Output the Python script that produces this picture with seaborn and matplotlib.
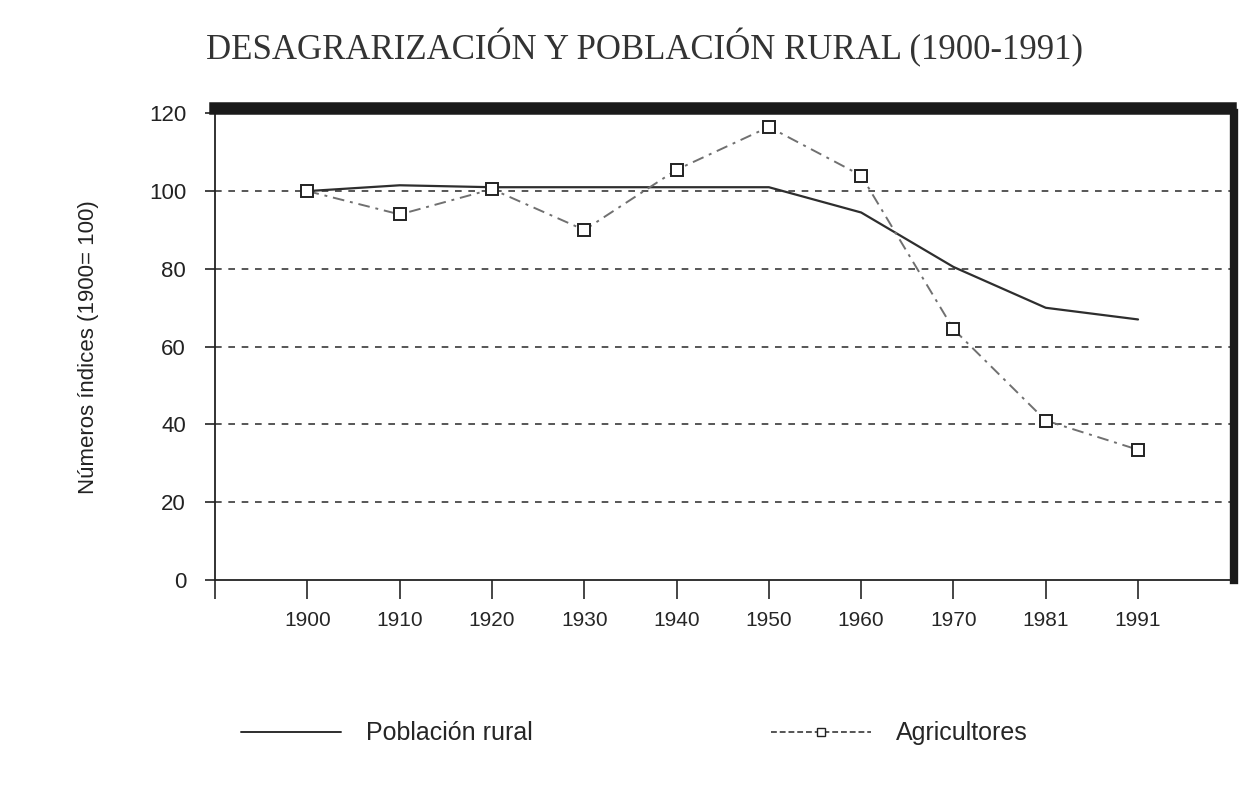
import numpy as np
import pandas as pd
import seaborn as sns
import matplotlib.pyplot as plt
from matplotlib.lines import Line2D

# datos
years = ["1900", "1910", "1920", "1930", "1940", "1950", "1960", "1970", "1981", "1991"]
poblacion_rural = [100, 101.5, 101, 101, 101, 101, 94.5, 80.5, 70, 67]
agricultores = [100, 94, 100.5, 90, 105.5, 116.5, 104, 64.5, 41, 33.5]

df = pd.DataFrame({"pos": np.arange(len(years)), "year": years,
                   "rural": poblacion_rural, "agri": agricultores})

sns.set_style("white")
plt.rcParams["font.family"] = ["Liberation Sans", "DejaVu Sans"]

fig = plt.figure(figsize=(12.44, 7.87), dpi=100)
ax = fig.add_axes([0.173, 0.263, 0.816, 0.593])

# lineas de referencia discontinuas
for y in [20, 40, 60, 80, 100]:
    ax.axhline(y, color="#3a3a3a", lw=1.2, ls=(0, (4, 4)), zorder=1)

sns.lineplot(data=df, x="pos", y="rural", ax=ax, color="#2e2e2e", lw=1.6, zorder=3)
sns.lineplot(data=df, x="pos", y="agri", ax=ax, color="#707070", lw=1.4,
             ls=(0, (6, 3, 1.5, 3)), marker="s", markersize=9,
             markerfacecolor="white", markeredgecolor="#222222", markeredgewidth=1.4,
             zorder=4)

ax.set_xlim(-1, 10)
ax.set_ylim(0, 120)
ax.set_yticks([0, 20, 40, 60, 80, 100, 120])
ax.set_xticks(np.arange(-1, len(years)))
ax.set_xticklabels([""] + years, fontweight="bold", color="#333333")
ax.tick_params(axis="x", direction="out", length=14, width=1.2, pad=8,
               labelsize=15, bottom=True)
ax.tick_params(axis="y", direction="out", length=7, width=1.2, pad=14,
               labelsize=16, colors="#222222", left=True)
ax.set_xlabel("")
ax.set_ylabel("Números índices (1900= 100)", fontsize=16, color="#222222", labelpad=36)

for s in ["left", "bottom"]:
    ax.spines[s].set_color("#222222")
    ax.spines[s].set_linewidth(1.3)
ax.spines["top"].set_color("#1a1a1a")
ax.spines["top"].set_linewidth(9)
ax.spines["top"].set_position(("outward", 4))
ax.spines["right"].set_color("#1a1a1a")
ax.spines["right"].set_linewidth(6)
ax.spines["right"].set_position(("outward", 3))

fig.text(0.518, 0.94, "DESAGRARIZACIÓN Y POBLACIÓN RURAL (1900-1991)",
         ha="center", va="center", fontsize=25, color="#333333",
         family=["Liberation Serif", "DejaVu Serif"])

handles = [
    Line2D([], [], color="#2e2e2e", lw=1.4),
    Line2D([], [], color="#555555", lw=1.4, ls=(0, (3, 1.5)), marker="s",
           markersize=6, markerfacecolor="white", markeredgecolor="#222222"),
]
fig.legend(handles, ["Población rural", "Agricultores"], loc="center",
           bbox_to_anchor=(0.51, 0.068), ncol=2, frameon=False, fontsize=18,
           handlelength=4, handletextpad=1.0, columnspacing=9.5)

fig.savefig("out.png", dpi=100)
